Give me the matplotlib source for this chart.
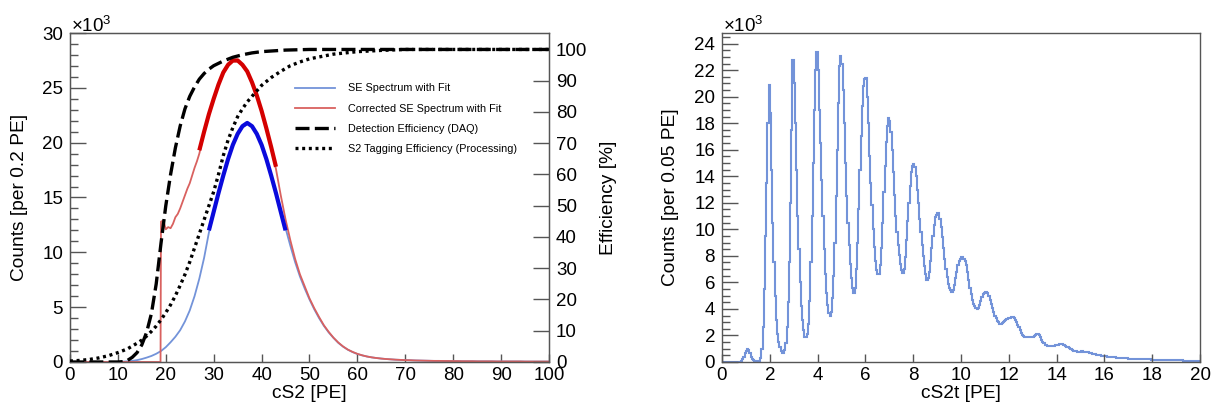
import numpy as np
import matplotlib
matplotlib.use('Agg')
import matplotlib.pyplot as plt
from matplotlib.ticker import MultipleLocator

# ---------------- 左图数据 (counts 单位: 10^3) ----------------
cs2_pe = list(range(0, 101))
se_counts = [
    0, 0, 0, 0, 0, 0, 0, 0, 0, 0, 0,
    0.03, 0.06, 0.1, 0.17, 0.27, 0.4, 0.55, 0.75, 1.0, 1.35,
    1.8, 2.3, 2.9, 3.7, 4.7, 6.0, 7.6, 9.5, 11.8, 13.5,
    15.3, 16.9, 18.4, 19.7, 20.7, 21.4, 21.7, 21.5, 20.9, 19.9,
    18.6, 17.1, 15.5, 13.8, 12.2, 10.6, 9.1, 7.8, 6.7, 5.7,
    4.8, 4.0, 3.3, 2.7, 2.2, 1.75, 1.4, 1.12, 0.9, 0.73,
    0.6, 0.5, 0.42, 0.36, 0.31, 0.27, 0.24, 0.21, 0.19, 0.17,
    0.16, 0.14, 0.13, 0.12, 0.11, 0.1, 0.1, 0.09, 0.09, 0.08,
    0.08, 0.07, 0.07, 0.07, 0.06, 0.06, 0.06, 0.06, 0.05, 0.05,
    0.05, 0.05, 0.05, 0.05, 0.04, 0.04, 0.04, 0.04, 0.04, 0.04,
]

corr_pe = [0, 18.9, 19.0, 19.5, 20, 20.5, 21, 21.5, 22, 22.5, 23, 23.5,
           24, 24.5, 25, 25.5, 26, 26.5] + list(range(27, 101))
corr_counts = [
    0, 0, 12.8, 12.9, 12.1, 12.3, 12.2, 12.6, 13.2, 13.5, 14.0, 14.6,
    15.2, 15.8, 16.3, 17.0, 17.7, 18.3,
    19.0, 20.9, 22.5, 23.9, 25.2, 26.3, 27.0, 27.4, 27.4, 27.1,
    26.4, 25.4, 24.2, 22.8, 21.2, 19.5, 17.6, 15.2, 13.0, 11.1,
    9.4, 8.0, 6.9, 5.8, 4.9, 4.1, 3.35, 2.75, 2.22, 1.78,
    1.42, 1.13, 0.92, 0.74, 0.61, 0.5, 0.42, 0.36, 0.31, 0.27,
    0.24, 0.21, 0.19, 0.17, 0.16, 0.14, 0.13, 0.12, 0.11, 0.1,
    0.1, 0.09, 0.09, 0.08, 0.08, 0.07, 0.07, 0.07, 0.06, 0.06,
    0.06, 0.06, 0.05, 0.05, 0.05, 0.05, 0.05, 0.05, 0.04, 0.04,
    0.04, 0.04, 0.04, 0.04,
]

se_fit_pe = list(range(29, 46))
se_fit = [12.0, 13.7, 15.4, 17.0, 18.5, 19.8, 20.8, 21.5, 21.8,
          21.5, 20.8, 19.8, 18.5, 17.0, 15.4, 13.7, 12.0]
corr_fit_pe = list(range(27, 44))
corr_fit = [19.3, 21.0, 22.6, 24.0, 25.3, 26.4, 27.1, 27.5, 27.5,
            27.1, 26.5, 25.5, 24.3, 22.9, 21.3, 19.6, 17.8]

# 效率曲线 (%)
daq_pe = [0, 5, 10, 11, 12, 13, 14, 15, 16, 17, 18, 19, 20, 21, 22, 23, 24,
          25, 26, 27, 28, 29, 30, 32, 34, 36, 38, 40, 45, 50, 60, 100]
daq_eff = [0, 0, 0, 0.1, 0.5, 1.5, 3.0, 5.5, 9.5, 15.5, 25.0, 38.0, 50.0,
           60.0, 68.5, 75.5, 81.0, 85.0, 88.0, 90.5, 92.3, 93.7, 94.8, 96.3,
           97.5, 98.3, 98.9, 99.3, 99.8, 100, 100, 100]
s2_pe = [0, 2, 4, 6, 8, 10, 12, 14, 15, 16, 17, 18, 19, 20, 21, 22, 23, 24,
         25, 26, 27, 28, 29, 30, 31, 32, 33, 34, 35, 36, 37, 38, 40, 42, 44,
         46, 48, 50, 55, 60, 65, 70, 100]
s2_eff = [0.3, 0.5, 0.8, 1.3, 2.0, 3.0, 4.2, 6.0, 7.0, 8.3, 9.8, 11.5, 13.5,
          15.8, 18.3, 21.2, 24.5, 28.0, 32.0, 36.5, 41.0, 45.5, 50.0, 54.5,
          60.0, 66.0, 71.0, 75.0, 78.5, 81.0, 83.2, 85.0, 88.5, 91.0, 93.0,
          94.8, 96.0, 97.0, 98.5, 99.3, 99.7, 100, 100]

# ---------------- 右图数据 (每 0.05 PE 一个 bin, 单位 10^3) ----------------
cs2t_counts = [
    0, 0, 0, 0, 0, 0, 0, 0, 0, 0, 0, 0, 0, 0, 0, 0.02, 0.08, 0.2, 0.4, 0.65,
    0.85, 0.98, 0.9, 0.65, 0.4, 0.22, 0.12, 0.08, 0.05, 0.05, 0.06, 0.1, 0.3, 1.0, 2.6, 5.5, 9.5, 13.5, 18.0, 20.9,
    18.8, 14.5, 10.5, 7.5, 5.0, 3.2, 2.1, 1.5, 1.1, 0.85, 0.7, 0.7, 0.9, 1.4, 2.6, 4.5, 7.5, 12.0, 17.5, 22.8,
    21.0, 18.0, 14.5, 11.0, 8.5, 6.0, 4.2, 3.2, 2.4, 1.9, 1.85, 2.1, 2.9, 4.6, 7.5, 11.0, 15.0, 19.0, 22.0, 23.4,
    22.0, 19.0, 16.5, 13.7, 11.0, 8.5, 6.6, 5.2, 4.3, 3.7, 3.5, 3.8, 4.8, 6.5, 9.0, 12.5, 16.0, 19.5, 22.3, 23.1,
    22.5, 20.5, 18.0, 15.0, 12.5, 10.5, 8.8, 7.4, 6.3, 5.6, 5.2, 5.6, 7.0, 9.0, 11.5, 14.5, 17.0, 19.3, 20.8, 21.3,
    21.4, 20.0, 18.0, 15.5, 13.5, 11.8, 10.0, 8.7, 7.6, 6.9, 6.6, 6.6, 7.3, 8.6, 10.5, 12.8, 14.8, 16.6, 17.8, 18.4,
    18.2, 17.3, 16.0, 14.3, 12.6, 11.0, 9.8, 8.8, 8.1, 7.4, 6.9, 6.7, 7.0, 7.9, 9.2, 10.6, 12.0, 13.3, 14.3, 14.8,
    14.9, 14.7, 14.0, 13.0, 12.0, 10.8, 9.8, 8.8, 8.0, 7.2, 6.6, 6.2, 6.3, 6.8, 7.6, 8.6, 9.5, 10.3, 10.9, 11.1,
    11.2, 11.2, 10.8, 10.2, 9.4, 8.6, 7.8, 7.0, 6.4, 5.9, 5.6, 5.4, 5.3, 5.4, 5.8, 6.3, 6.8, 7.3, 7.6, 7.8,
    7.9, 7.9, 7.8, 7.6, 7.3, 6.8, 6.2, 5.6, 5.1, 4.7, 4.4, 4.2, 4.1, 4.0, 4.1, 4.3, 4.6, 4.9, 5.1, 5.2,
    5.3, 5.3, 5.2, 5.0, 4.7, 4.4, 4.1, 3.8, 3.5, 3.3, 3.1, 3.0, 2.9, 2.9, 2.95, 3.0, 3.1, 3.2, 3.25, 3.3,
    3.3, 3.35, 3.4, 3.4, 3.35, 3.2, 3.0, 2.8, 2.6, 2.4, 2.2, 2.05, 1.95, 1.9, 1.9, 1.9, 1.9, 1.9, 1.9, 1.9,
    1.9, 1.95, 2.05, 2.1, 2.1, 2.0, 1.85, 1.65, 1.5, 1.4, 1.3, 1.25, 1.2, 1.2, 1.2, 1.2, 1.2, 1.2, 1.22, 1.25,
    1.28, 1.3, 1.32, 1.33, 1.32, 1.3, 1.27, 1.22, 1.15, 1.1, 1.05, 1.0, 0.95, 0.9, 0.86, 0.83, 0.8, 0.79, 0.78, 0.78,
    0.8, 0.8, 0.79, 0.78, 0.76, 0.74, 0.72, 0.7, 0.67, 0.64, 0.62, 0.6, 0.58, 0.55, 0.53, 0.51, 0.49, 0.47, 0.45, 0.44,
    0.43, 0.42, 0.41, 0.40, 0.39, 0.38, 0.37, 0.36, 0.35, 0.34, 0.33, 0.32, 0.31, 0.31, 0.30, 0.30, 0.29, 0.28, 0.27, 0.27,
    0.26, 0.26, 0.25, 0.25, 0.24, 0.24, 0.23, 0.23, 0.22, 0.22, 0.21, 0.21, 0.21, 0.2, 0.2, 0.2, 0.19, 0.19, 0.19, 0.18,
    0.18, 0.18, 0.17, 0.17, 0.17, 0.16, 0.16, 0.16, 0.16, 0.15, 0.15, 0.15, 0.15, 0.14, 0.14, 0.14, 0.14, 0.13, 0.13, 0.13,
    0.13, 0.12, 0.12, 0.12, 0.12, 0.12, 0.11, 0.11, 0.11, 0.11, 0.11, 0.10, 0.10, 0.10, 0.10, 0.10, 0.10, 0.09, 0.09, 0.09,
]

legend_labels = ['SE Spectrum with Fit', 'Corrected SE Spectrum with Fit',
                 'Detection Efficiency (DAQ)', 'S2 Tagging Efficiency (Processing)']

LIGHT_BLUE = '#7393d9'
LIGHT_RED = '#d9615f'
FRAME = '#555555'
TICK_FS = 13.5
TITLE_FS = 13.8


def style_axis(ax):
    for sp in ax.spines.values():
        sp.set_color(FRAME)
        sp.set_linewidth(1.0)
    ax.tick_params(axis='both', which='both', direction='in', colors=FRAME,
                   labelcolor='black', labelsize=TICK_FS, width=1.0)
    ax.tick_params(axis='y', which='major', length=11.5, pad=5)
    ax.tick_params(axis='y', which='minor', length=5.8)
    ax.tick_params(axis='x', which='major', length=6, pad=3.5)
    ax.tick_params(top=False, right=False)


def main():
    plt.rcParams['font.family'] = ['Liberation Sans', 'DejaVu Sans']
    plt.rcParams['mathtext.fontset'] = 'custom'
    plt.rcParams['mathtext.rm'] = 'Liberation Sans'

    fig = plt.figure(figsize=(12.13, 4.05), dpi=100)
    ax1 = fig.add_axes([0.0577, 0.1062, 0.3949, 0.8123])
    ax2 = fig.add_axes([0.5952, 0.1062, 0.3941, 0.8123])

    # ---- 左图 ----
    h1, = ax1.plot(cs2_pe, se_counts, color=LIGHT_BLUE, lw=1.3, zorder=2)
    h2, = ax1.plot(corr_pe, corr_counts, color=LIGHT_RED, lw=1.3, zorder=2)
    ax1.plot(se_fit_pe, se_fit, color='#0a0adc', lw=3.0, zorder=3,
             solid_capstyle='butt')
    ax1.plot(corr_fit_pe, corr_fit, color='#d40000', lw=3.0, zorder=3,
             solid_capstyle='butt')
    ax1.set_xlim(0, 100)
    ax1.set_ylim(0, 30)
    ax1.xaxis.set_major_locator(MultipleLocator(10))
    ax1.yaxis.set_major_locator(MultipleLocator(5))
    ax1.yaxis.set_minor_locator(MultipleLocator(1))
    style_axis(ax1)
    ax1.set_xlabel('cS2 [PE]', fontsize=TITLE_FS)
    ax1.set_ylabel('Counts [per 0.2 PE]', fontsize=TITLE_FS)
    ax1.xaxis.set_label_coords(0.5, -0.07)
    ax1.yaxis.set_label_coords(-0.088, 0.5)
    ax1.text(0.003, 1.004, r'$\mathregular{\times10^{3}}$', transform=ax1.transAxes,
             fontsize=TICK_FS, ha='left', va='baseline')

    ax1r = ax1.twinx()
    ax1r.set_position(ax1.get_position())
    h3, = ax1r.plot(daq_pe, daq_eff, color='black', lw=2.4,
                    dashes=(4.2, 1.6), zorder=4)
    h4, = ax1r.plot(s2_pe, s2_eff, color='black', lw=2.4,
                    dashes=(0.9, 1.1), zorder=4)
    ax1r.set_ylim(0, 100 / 0.95)
    ax1r.yaxis.set_major_locator(MultipleLocator(10))
    for sp in ax1r.spines.values():
        sp.set_color(FRAME)
    ax1r.tick_params(axis='y', direction='in', length=11.5, width=1.0, pad=5,
                     colors=FRAME, labelcolor='black', labelsize=TICK_FS)
    ax1r.set_ylabel('Efficiency [%]', fontsize=TITLE_FS)
    ax1r.yaxis.set_label_coords(1.107, 0.5)

    ax1r.legend([h1, h2, h3, h4], legend_labels, loc='upper left',
                bbox_to_anchor=(0.46, 0.86), frameon=False, fontsize=7.8,
                handlelength=3.7, handletextpad=1.2, labelspacing=0.95,
                borderaxespad=0)

    # ---- 右图 ----
    edges = np.linspace(0, 20, len(cs2t_counts) + 1)
    ax2.stairs(cs2t_counts, edges, color=LIGHT_BLUE, lw=1.5)
    ax2.set_xlim(0, 20)
    ax2.set_ylim(0, 24.8)
    ax2.xaxis.set_major_locator(MultipleLocator(2))
    ax2.yaxis.set_major_locator(MultipleLocator(2))
    ax2.yaxis.set_minor_locator(MultipleLocator(0.5))
    style_axis(ax2)
    ax2.set_xlabel('cS2t [PE]', fontsize=TITLE_FS)
    ax2.set_ylabel('Counts [per 0.05 PE]', fontsize=TITLE_FS)
    ax2.xaxis.set_label_coords(0.5, -0.07)
    ax2.yaxis.set_label_coords(-0.09, 0.5)
    ax2.text(0.003, 1.004, r'$\mathregular{\times10^{3}}$', transform=ax2.transAxes,
             fontsize=TICK_FS, ha='left', va='baseline')

    fig.savefig('out.png', dpi=100)


if __name__ == "__main__":
    main()
